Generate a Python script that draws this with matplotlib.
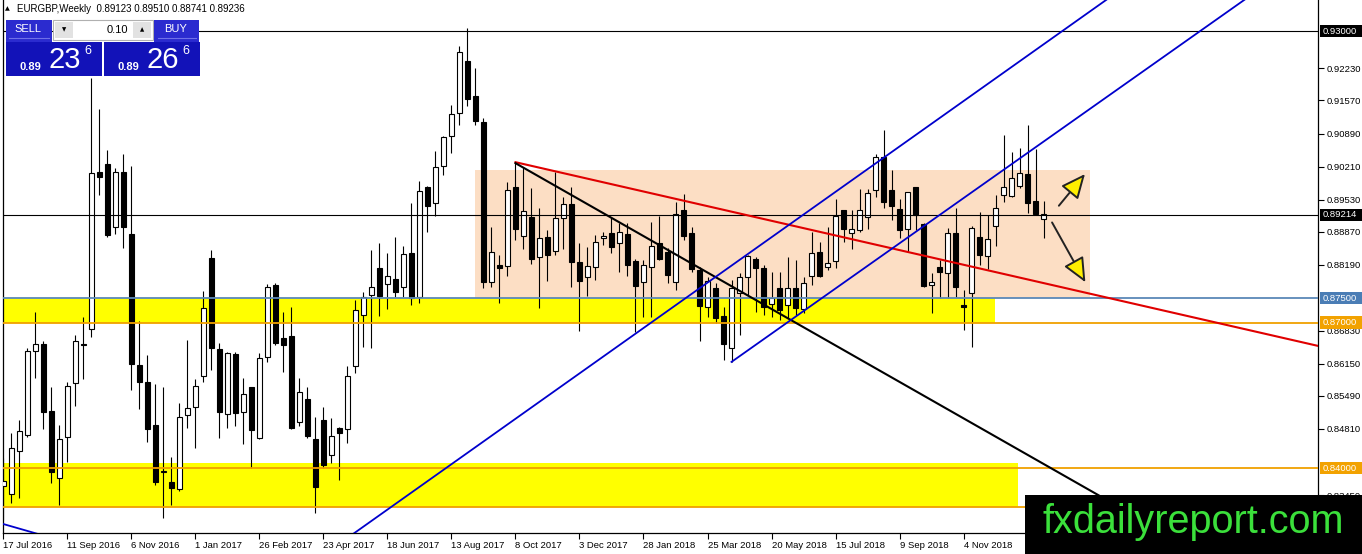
import matplotlib
matplotlib.use('Agg')
import matplotlib.pyplot as plt
from matplotlib.patches import Rectangle
from matplotlib.transforms import blended_transform_factory
import numpy as np

plt.rcParams['font.family'] = ['Liberation Sans', 'DejaVu Sans']

# weekly EURGBP candles, 17 Jul 2016 onwards
symbol = "EURGBP,Weekly"
last_ohlc = [0.89123, 0.89510, 0.88741, 0.89236]

opens = [
    0.8364, 0.8347, 0.8436, 0.8469, 0.8641, 0.8656, 0.8518, 0.8380, 0.8465, 0.8576,
    0.8656, 0.8687, 0.9010, 0.9026, 0.8897, 0.9010, 0.8882, 0.8613, 0.8578, 0.8489,
    0.8392, 0.8372, 0.8357, 0.8510, 0.8526, 0.8590, 0.8833, 0.8646, 0.8512, 0.8635,
    0.8516, 0.8567, 0.8462, 0.8629, 0.8777, 0.8668, 0.8672, 0.8495, 0.8543, 0.8460,
    0.8499, 0.8427, 0.8483, 0.8481, 0.8611, 0.8716, 0.8757, 0.8812, 0.8779, 0.8790,
    0.8773, 0.8843, 0.8753, 0.8979, 0.8946, 0.9022, 0.9084, 0.9131, 0.9238, 0.9166,
    0.9113, 0.8784, 0.8818, 0.8816, 0.8979, 0.8878, 0.8917, 0.8835, 0.8876, 0.8847,
    0.8915, 0.8944, 0.8825, 0.8794, 0.8814, 0.8874, 0.8884, 0.8864, 0.8882, 0.8827,
    0.8784, 0.8814, 0.8864, 0.8845, 0.8784, 0.8932, 0.8884, 0.8808, 0.8732, 0.8771,
    0.8714, 0.8648, 0.8761, 0.8794, 0.8831, 0.8812, 0.8738, 0.8771, 0.8736, 0.8771,
    0.8728, 0.8796, 0.8845, 0.8814, 0.8827, 0.8932, 0.8884, 0.8890, 0.8917, 0.8973,
    0.9041, 0.8973, 0.8934, 0.8893, 0.8979, 0.8903, 0.8777, 0.8814, 0.8802, 0.8884,
    0.8736, 0.8761, 0.8876, 0.8837, 0.8899, 0.8963, 0.8960, 0.8981, 0.9006, 0.8950,
    0.89123,
]
highs = [
    0.8421, 0.8473, 0.8499, 0.8648, 0.8722, 0.8662, 0.8567, 0.8489, 0.8578, 0.8674,
    0.8711, 0.9203, 0.9140, 0.9055, 0.9018, 0.9047, 0.9022, 0.8703, 0.8633, 0.8574,
    0.8567, 0.8423, 0.8534, 0.8664, 0.8584, 0.8765, 0.8849, 0.8658, 0.8639, 0.8639,
    0.8586, 0.8551, 0.8637, 0.8779, 0.8781, 0.8722, 0.8732, 0.8586, 0.8567, 0.8506,
    0.8526, 0.8504, 0.8485, 0.8611, 0.8746, 0.8763, 0.8849, 0.8864, 0.8843, 0.8876,
    0.8858, 0.8946, 0.8991, 0.8981, 0.9053, 0.9084, 0.9148, 0.9269, 0.9306, 0.9224,
    0.9121, 0.8897, 0.8839, 0.8989, 0.9028, 0.9020, 0.8977, 0.8936, 0.8890, 0.9010,
    0.8958, 0.8979, 0.8864, 0.8856, 0.8880, 0.8886, 0.8917, 0.8905, 0.8905, 0.8831,
    0.8829, 0.8907, 0.8919, 0.8853, 0.8948, 0.8965, 0.8897, 0.8814, 0.8794, 0.8782,
    0.8732, 0.8788, 0.8802, 0.8839, 0.8835, 0.8818, 0.8804, 0.8804, 0.8835, 0.8829,
    0.8794, 0.8886, 0.8866, 0.8897, 0.8954, 0.8932, 0.8932, 0.8975, 0.8975, 0.9047,
    0.9096, 0.9014, 0.8954, 0.8969, 0.8979, 0.8905, 0.8802, 0.8829, 0.8895, 0.8936,
    0.8767, 0.8899, 0.8927, 0.8921, 0.8963, 0.9086, 0.9051, 0.9059, 0.9107, 0.9057,
    0.89510,
]
lows = [
    0.8294, 0.8329, 0.8339, 0.8465, 0.8586, 0.8481, 0.8370, 0.8325, 0.8413, 0.8528,
    0.8584, 0.8670, 0.8962, 0.8876, 0.8882, 0.8853, 0.8561, 0.8522, 0.8454, 0.8366,
    0.8298, 0.8325, 0.8353, 0.8483, 0.8442, 0.8578, 0.8602, 0.8462, 0.8483, 0.8487,
    0.8450, 0.8401, 0.8460, 0.8619, 0.8654, 0.8598, 0.8481, 0.8487, 0.8462, 0.8308,
    0.8401, 0.8411, 0.8376, 0.8452, 0.8596, 0.8650, 0.8648, 0.8714, 0.8728, 0.8753,
    0.8753, 0.8736, 0.8740, 0.8886, 0.8919, 0.9004, 0.9049, 0.9107, 0.9146, 0.9107,
    0.8771, 0.8773, 0.8740, 0.8796, 0.8870, 0.8851, 0.8820, 0.8730, 0.8786, 0.8839,
    0.8851, 0.8773, 0.8683, 0.8755, 0.8788, 0.8860, 0.8843, 0.8804, 0.8796, 0.8681,
    0.8711, 0.8711, 0.8829, 0.8782, 0.8767, 0.8870, 0.8804, 0.8662, 0.8711, 0.8699,
    0.8623, 0.8619, 0.8674, 0.8757, 0.8722, 0.8716, 0.8711, 0.8705, 0.8709, 0.8716,
    0.8720, 0.8777, 0.8794, 0.8808, 0.8812, 0.8866, 0.8851, 0.8887, 0.8893, 0.8958,
    0.8936, 0.8911, 0.8874, 0.8845, 0.8890, 0.8773, 0.8720, 0.8751, 0.8751, 0.8753,
    0.8685, 0.8650, 0.8818, 0.8810, 0.8858, 0.8948, 0.8958, 0.8977, 0.8926, 0.8921,
    0.88741,
]
closes = [
    0.8374, 0.8442, 0.8477, 0.8641, 0.8656, 0.8516, 0.8392, 0.8460, 0.8570, 0.8662,
    0.8654, 0.9008, 0.8999, 0.8880, 0.9010, 0.8897, 0.8615, 0.8578, 0.8481, 0.8372,
    0.8394, 0.8360, 0.8506, 0.8524, 0.8570, 0.8730, 0.8648, 0.8516, 0.8637, 0.8514,
    0.8553, 0.8479, 0.8627, 0.8773, 0.8658, 0.8654, 0.8483, 0.8557, 0.8467, 0.8362,
    0.8407, 0.8467, 0.8473, 0.8590, 0.8726, 0.8753, 0.8773, 0.8755, 0.8796, 0.8763,
    0.8841, 0.8751, 0.8971, 0.8940, 0.9020, 0.9082, 0.9129, 0.9257, 0.9160, 0.9115,
    0.8784, 0.8845, 0.8812, 0.8973, 0.8893, 0.8930, 0.8831, 0.8874, 0.8839, 0.8915,
    0.8944, 0.8825, 0.8786, 0.8816, 0.8866, 0.8878, 0.8856, 0.8886, 0.8818, 0.8775,
    0.8818, 0.8858, 0.8831, 0.8798, 0.8923, 0.8878, 0.8810, 0.8734, 0.8786, 0.8709,
    0.8656, 0.8771, 0.8794, 0.8837, 0.8812, 0.8732, 0.8751, 0.8726, 0.8771, 0.8730,
    0.8782, 0.8843, 0.8796, 0.8823, 0.8919, 0.8893, 0.8893, 0.8932, 0.8967, 0.9041,
    0.8948, 0.8940, 0.8890, 0.8969, 0.8921, 0.8775, 0.8784, 0.8804, 0.8884, 0.8773,
    0.8732, 0.8895, 0.8839, 0.8872, 0.8936, 0.8979, 0.8997, 0.9008, 0.8946, 0.8923,
    0.89236,
]

date_labels = ["17 Jul 2016", "11 Sep 2016", "6 Nov 2016", "1 Jan 2017", "26 Feb 2017",
               "23 Apr 2017", "18 Jun 2017", "13 Aug 2017", "8 Oct 2017", "3 Dec 2017",
               "28 Jan 2018", "25 Mar 2018", "20 May 2018", "15 Jul 2018", "9 Sep 2018",
               "4 Nov 2018"]
label_step = 8

# scale labels that are not hidden under the level boxes
price_ticks = [0.92230, 0.91570, 0.90890, 0.90210, 0.89530, 0.88870, 0.88190,
               0.86830, 0.86150, 0.85490, 0.84810, 0.83450]

bid = 0.89214
top_level = 0.93000
blue_level = 0.87500
orange_levels = [0.87000, 0.84000]
lower_zone_bottom = 0.8320

# zones: (x from, x to, price from, price to)
upper_zone = (-0.1, 123.9, 0.8700, 0.8750)
lower_zone = (-0.1, 126.8, 0.8320, 0.8410)
range_box = (58.9, 135.8, 0.8751, 0.9014)

# drawn lines (two anchor points each)
red_x, red_y = [64, 164.3], [0.9030, 0.8652]
black_x, black_y = [64, 170], [0.9028, 0.8034]
chan_up_x, chan_up_y = [30, 150], [0.8105, 0.9506]
chan_lo_x, chan_lo_y = [91, 160], [0.8619, 0.9421]
stub_x, stub_y = [-1, 4.5], [0.8290, 0.8264]

arrow_up = ((131.7, 0.8936), (135.4, 0.9010))
arrow_down = ((130.9, 0.8911), (135.4, 0.8778))

fig = plt.figure(figsize=(13.62, 5.54), dpi=100)
ax = fig.add_axes([3 / 1362, 21 / 554, 1315 / 1362, 533 / 554])
ax.set_xlim(-0.06, 164.31)
ax.set_ylim(0.82669, 0.93638)

# zones in the background
x0, x1, y0, y1 = range_box
ax.add_patch(Rectangle((x0, y0), x1 - x0, y1 - y0, fc='#FCDEC4', ec='none', zorder=1))
for x0, x1, y0, y1 in [upper_zone, lower_zone]:
    ax.add_patch(Rectangle((x0, y0), x1 - x0, y1 - y0, fc='#FFFF00', ec='none', zorder=1))

# candles
o = np.array(opens)
h = np.array(highs)
l = np.array(lows)
c = np.array(closes)
x = np.arange(len(o))
up = c >= o
ax.vlines(x, l, h, color='black', lw=0.8, zorder=3)
bottom = np.minimum(o, c)
height = np.abs(c - o)
ax.bar(x[up], height[up], bottom=bottom[up], width=0.62, color='white',
       edgecolor='black', linewidth=0.8, zorder=4)
ax.bar(x[~up], height[~up], bottom=bottom[~up], width=0.62, color='black',
       edgecolor='black', linewidth=0.8, zorder=4)

# horizontal levels
ax.axhline(top_level, color='black', lw=0.8, zorder=5)
ax.axhline(bid, color='black', lw=0.8, zorder=5)
ax.axhline(blue_level, color='#5A88B8', lw=1.3, zorder=5)
for lv in orange_levels + [lower_zone_bottom]:
    ax.axhline(lv, color='#F0A000', lw=1.3, zorder=5)

# trend lines and channel
ax.plot(red_x, red_y, color='#E00000', lw=1.5, zorder=6)
ax.plot(black_x, black_y, color='black', lw=1.5, zorder=6)
ax.plot(chan_up_x, chan_up_y, color='#0000CC', lw=1.3, zorder=6)
ax.plot(chan_lo_x, chan_lo_y, color='#0000CC', lw=1.3, zorder=6)
ax.plot(stub_x, stub_y, color='#0000CC', lw=1.3, zorder=6)

for start, end in [arrow_up, arrow_down]:
    ax.annotate('', xy=end, xytext=start,
                arrowprops=dict(arrowstyle='-|>,head_length=1.0,head_width=0.45',
                                fc='#FFEE00', ec='#222222', lw=1.4, mutation_scale=15),
                zorder=7)

# axes styling
ax.spines['top'].set_visible(False)
for s in ['left', 'right', 'bottom']:
    ax.spines[s].set_linewidth(0.9)
ax.yaxis.tick_right()
ax.set_yticks(price_ticks)
ax.set_yticklabels([f"{t:.5f}" for t in price_ticks])
ax.tick_params(axis='y', length=4, width=0.8, labelsize=6.8, pad=2)
ax.set_xticks(np.arange(len(date_labels)) * label_step)
ax.set_xticklabels(date_labels, ha='left')
ax.tick_params(axis='x', length=4, width=0.8, labelsize=6.8, pad=2)

# boxed price labels at the right scale
trans = blended_transform_factory(ax.transAxes, ax.transData)
box_h = 0.0025
boxed = [(top_level, 'black'), (bid, 'black'), (blue_level, '#4A7DB5'),
         (orange_levels[0], '#F2A200'), (orange_levels[1], '#F2A200')]
for val, fc in boxed:
    ax.add_patch(Rectangle((1.0015, val - box_h / 2), 0.034, box_h, transform=trans,
                           fc=fc, ec='none', clip_on=False, zorder=9))
    ax.text(1.0035, val, f"{val:.5f}", transform=trans, ha='left', va='center',
            fontsize=6.8, color='white', clip_on=False, zorder=10)

# overlay: trade panel, header, logo (pixel coordinates)
oax = fig.add_axes([0, 0, 1, 1], zorder=10)
oax.set_xlim(0, 1362)
oax.set_ylim(554, 0)
oax.axis('off')

oax.text(5, 9, '▲', fontsize=4.5, va='center', ha='left', family='DejaVu Sans')
oax.text(17, 9, f"{symbol}  " + " ".join(f"{v:.5f}" for v in last_ohlc),
         fontsize=7, va='center', ha='left')

oax.add_patch(Rectangle((6, 20), 46, 22, fc='#2B2BCF', ec='none'))
oax.plot([9, 49], [38, 38], color='#7070E8', lw=0.8)
oax.text(28, 29.5, 'SELL', color='white', fontsize=8, ha='center', va='center')
oax.add_patch(Rectangle((53, 20), 100, 20, fc='white', ec='#B0B0B0', lw=0.8))
oax.add_patch(Rectangle((55, 22), 18, 16, fc='#E2E2E2', ec='none'))
oax.add_patch(Rectangle((133, 22), 18, 16, fc='#E2E2E2', ec='none'))
oax.text(64, 30, '▼', fontsize=4, ha='center', va='center', family='DejaVu Sans')
oax.text(142, 30, '▲', fontsize=4, ha='center', va='center', family='DejaVu Sans')
oax.text(128, 30, '0.10', fontsize=8, ha='right', va='center')
oax.add_patch(Rectangle((154, 20), 45, 22, fc='#2B2BCF', ec='none'))
oax.plot([158, 196], [38, 38], color='#7070E8', lw=0.8)
oax.text(176, 29.5, 'BUY', color='white', fontsize=8, ha='center', va='center')

for bx, big, small_x, big_x, sup_x in [(6, '23', 20, 49, 84), (104, '26', 118, 146, 182)]:
    oax.add_patch(Rectangle((bx, 42), 96, 34, fc='#1212B8', ec='none'))
    oax.text(small_x, 67, '0.89', color='white', fontsize=8, fontweight='bold',
             ha='left', va='center')
    oax.text(big_x, 60, big, color='white', fontsize=21, ha='left', va='center')
    oax.text(sup_x, 51, '6', color='white', fontsize=9, ha='left', va='center')

oax.add_patch(Rectangle((1025, 495), 337, 59, fc='black', ec='none'))
oax.text(1193, 522, 'fxdailyreport.com', color='#3BE03B', fontsize=28.5,
         ha='center', va='center')

fig.savefig('out.png', dpi=100)
